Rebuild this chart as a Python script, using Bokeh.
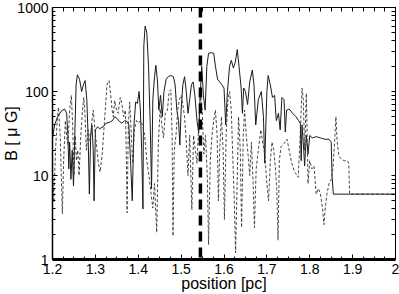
from bokeh.plotting import figure
from bokeh.models import FixedTicker, Span, LinearAxis, LogAxis, Range1d
from bokeh.embed import file_html
from bokeh.resources import INLINE

solid_x = [1.200, 1.205, 1.212, 1.220, 1.228, 1.233, 1.236, 1.238, 1.240, 1.243, 1.246, 1.249, 1.252, 1.255, 1.258,
           1.263, 1.268, 1.272, 1.276, 1.280, 1.283, 1.286, 1.289, 1.292, 1.295, 1.297, 1.300, 1.305, 1.310, 1.318,
           1.325, 1.333, 1.340, 1.345, 1.350, 1.356, 1.362, 1.368, 1.374, 1.378, 1.382, 1.386, 1.390, 1.394, 1.398,
           1.402, 1.405, 1.408, 1.411, 1.413, 1.416, 1.420, 1.424, 1.428, 1.431, 1.434, 1.438, 1.441, 1.445, 1.448,
           1.452, 1.456, 1.460, 1.465, 1.470, 1.476, 1.482, 1.486, 1.490, 1.494, 1.497, 1.500, 1.504, 1.508, 1.512,
           1.516, 1.520, 1.524, 1.528, 1.532, 1.537, 1.541, 1.545, 1.548, 1.552, 1.556, 1.560, 1.564, 1.570, 1.576,
           1.580, 1.585, 1.590, 1.595, 1.600, 1.604, 1.608, 1.613, 1.617, 1.622, 1.626, 1.631, 1.635, 1.640, 1.643,
           1.646, 1.650, 1.655, 1.660, 1.666, 1.670, 1.674, 1.680, 1.687, 1.692, 1.695, 1.700, 1.703, 1.708, 1.713,
           1.718, 1.722, 1.727, 1.731, 1.735, 1.740, 1.743, 1.746, 1.752, 1.760, 1.768, 1.774, 1.778, 1.780, 1.782,
           1.786, 1.788, 1.792, 1.796, 1.800, 1.806, 1.815, 1.825, 1.835, 1.845, 1.850, 1.852, 1.855, 2.000]
solid_b = [28, 40, 50, 58, 62, 55, 30, 12, 25, 9, 20, 7.5, 30, 120, 158,
           140, 100, 120, 135, 80, 30, 6, 30, 40, 20, 5, 35, 38, 36, 38,
           42, 43, 45, 50, 48, 44, 42, 45, 44, 40, 15, 5, 40, 75, 72,
           100, 60, 20, 4, 350, 600, 500, 200, 40, 7, 80, 150, 205, 130, 60,
           90, 50, 100, 140, 150, 155, 150, 120, 60, 45, 23, 60, 120, 150, 100,
           55, 80, 120, 130, 90, 45, 32, 100, 200, 90, 60, 200, 285, 290, 285,
           200, 140, 130, 120, 110, 40, 100, 200, 235, 190, 220, 316, 200, 110, 55,
           110, 100, 70, 130, 180, 120, 40, 80, 100, 50, 14, 100, 155, 120, 85,
           90, 45, 55, 35, 85, 80, 33, 60, 62, 55, 50, 45, 42, 15, 40,
           20, 13, 30, 18, 30, 28, 29, 28, 27, 27, 25, 10, 6, 6]

dash_x = [1.200, 1.203, 1.207, 1.211, 1.214, 1.218, 1.221, 1.223, 1.226, 1.230, 1.233, 1.236, 1.240, 1.244, 1.247,
          1.250, 1.253, 1.256, 1.259, 1.262, 1.266, 1.270, 1.273, 1.276, 1.279, 1.283, 1.288, 1.292, 1.295, 1.299,
          1.303, 1.307, 1.311, 1.316, 1.322, 1.327, 1.332, 1.336, 1.339, 1.342, 1.345, 1.349, 1.353, 1.358, 1.362,
          1.366, 1.370, 1.372, 1.374, 1.377, 1.380, 1.384, 1.387, 1.391, 1.396, 1.400, 1.405, 1.410, 1.415, 1.420,
          1.426, 1.430, 1.434, 1.438, 1.443, 1.447, 1.451, 1.455, 1.459, 1.463, 1.468, 1.472, 1.476, 1.479, 1.481,
          1.484, 1.488, 1.492, 1.496, 1.500, 1.504, 1.508, 1.512, 1.516, 1.520, 1.525, 1.529, 1.533, 1.537, 1.541,
          1.545, 1.549, 1.553, 1.557, 1.561, 1.564, 1.568, 1.572, 1.576, 1.580, 1.584, 1.587, 1.590, 1.594, 1.598,
          1.601, 1.605, 1.609, 1.613, 1.617, 1.620, 1.624, 1.627, 1.631, 1.634, 1.638, 1.641, 1.645, 1.648, 1.652,
          1.656, 1.660, 1.664, 1.668, 1.671, 1.675, 1.680, 1.686, 1.690, 1.695, 1.700, 1.704, 1.708, 1.712, 1.716,
          1.720, 1.723, 1.726, 1.729, 1.733, 1.740, 1.747, 1.752, 1.758, 1.765, 1.773, 1.777, 1.780, 1.782, 1.785,
          1.788, 1.790, 1.792, 1.794, 1.796, 1.800, 1.805, 1.810, 1.815, 1.820, 1.825, 1.830, 1.833, 1.836, 1.840,
          1.845, 1.850, 1.854, 1.858, 1.861, 1.864, 1.868, 1.872, 1.880, 1.888, 1.891, 1.893, 2.000]
dash_b = [12, 4.8, 20, 45, 65, 30, 8, 3.5, 15, 45, 30, 23, 60, 90, 40,
          10, 30, 15, 20, 10, 30, 60, 85, 50, 20, 35, 25, 45, 60, 35,
          22, 14, 11, 18, 50, 120, 135, 90, 60, 50, 78, 62, 55, 85, 70,
          50, 60, 20, 3.6, 40, 75, 30, 14, 35, 45, 42, 45, 40, 30, 15,
          9, 6, 4.1, 8, 2.1, 25, 62, 40, 28, 55, 60, 100, 105, 30, 1.9,
          20, 30, 60, 80, 90, 70, 50, 25, 10, 30, 3.9, 30, 20, 14, 40,
          100, 60, 18, 30, 10, 1.5, 15, 30, 45, 60, 30, 5, 20, 50, 20,
          3, 30, 80, 100, 60, 20, 5, 1.2, 10, 50, 20, 2.4, 30, 60, 30,
          18, 10, 25, 8, 2.4, 12, 20, 35, 25, 18, 8, 5, 15, 25, 20,
          12, 7, 1.7, 15, 22, 24, 27, 20, 14, 11, 9.5, 25, 60, 110, 80,
          20, 40, 95, 30, 8, 15, 12, 13, 6, 7, 6, 4, 2.6, 4, 6,
          8, 9, 12, 25, 50, 25, 17, 16, 15, 15, 14, 6, 6]

x_ticks = [1.2, 1.3, 1.4, 1.5, 1.6, 1.7, 1.8, 1.9, 2.0]
x_labels = ["1.2", "1.3", "1.4", "1.5", "1.6", "1.7", "1.8", "1.9", "2"]
y_ticks = [1, 10, 100, 1000]
y_labels = ["1", "10", "100", "1000"]
marker_x = 1.545

FONT = "Liberation Sans"

p = figure(width=399, height=294, output_backend="svg", toolbar_location=None,
           y_axis_type="log", x_range=Range1d(1.2, 2.0), y_range=Range1d(1, 1000),
           min_border_left=50, min_border_right=4, min_border_top=7, min_border_bottom=4)
p.grid.visible = False
p.outline_line_color = "black"
p.outline_line_width = 1
p.background_fill_color = "white"
p.border_fill_color = "white"

minor_y = [m * d for d in (1, 10, 100) for m in range(2, 10)]
minor_x = [round(1.2 + 0.025 * i, 3) for i in range(33)]

p.line(solid_x, solid_b, line_color="#1a1a1a", line_width=1)
p.line(dash_x, dash_b, line_color="#333333", line_width=0.9, line_dash="3 2")
p.add_layout(Span(location=marker_x, dimension="height", line_color="black",
                  line_width=3.5, line_dash="10 6"))

def style(ax):
    ax.major_tick_in = 5
    ax.major_tick_out = 0
    ax.minor_tick_in = 3
    ax.minor_tick_out = 0
    ax.axis_line_color = "black"
    ax.major_tick_line_color = "black"
    ax.minor_tick_line_color = "black"
    ax.major_label_text_font = FONT
    ax.major_label_text_font_size = "14px"
    ax.major_label_text_color = "black"
    ax.axis_label_text_font = FONT
    ax.axis_label_text_font_size = "16px"
    ax.axis_label_text_font_style = "normal"
    ax.axis_label_text_color = "black"

xa = p.xaxis[0]
xa.ticker = FixedTicker(ticks=x_ticks, minor_ticks=minor_x)
xa.major_label_overrides = dict(zip(x_ticks, x_labels))
xa.axis_label = "position [pc]"
style(xa)
xa.axis_line_width = 3
xa.major_label_standoff = 4
xa.axis_label_standoff = -2

ya = p.yaxis[0]
ya.ticker = FixedTicker(ticks=y_ticks, minor_ticks=minor_y)
ya.major_label_overrides = dict(zip(y_ticks, y_labels))
ya.axis_label = "B [ μ G]"
style(ya)
ya.axis_line_width = 1.5
ya.major_label_standoff = 4
ya.axis_label_standoff = -6

# mirrored tick marks on top and right (no labels)
top = LinearAxis(ticker=FixedTicker(ticks=[], minor_ticks=minor_x))
style(top)
top.minor_tick_in = 4
p.add_layout(top, "above")
right = LogAxis(ticker=FixedTicker(ticks=[], minor_ticks=minor_y + y_ticks))
style(right)
right.minor_tick_in = 4
p.add_layout(right, "right")

open("out.html", "w").write(file_html(p, INLINE))
